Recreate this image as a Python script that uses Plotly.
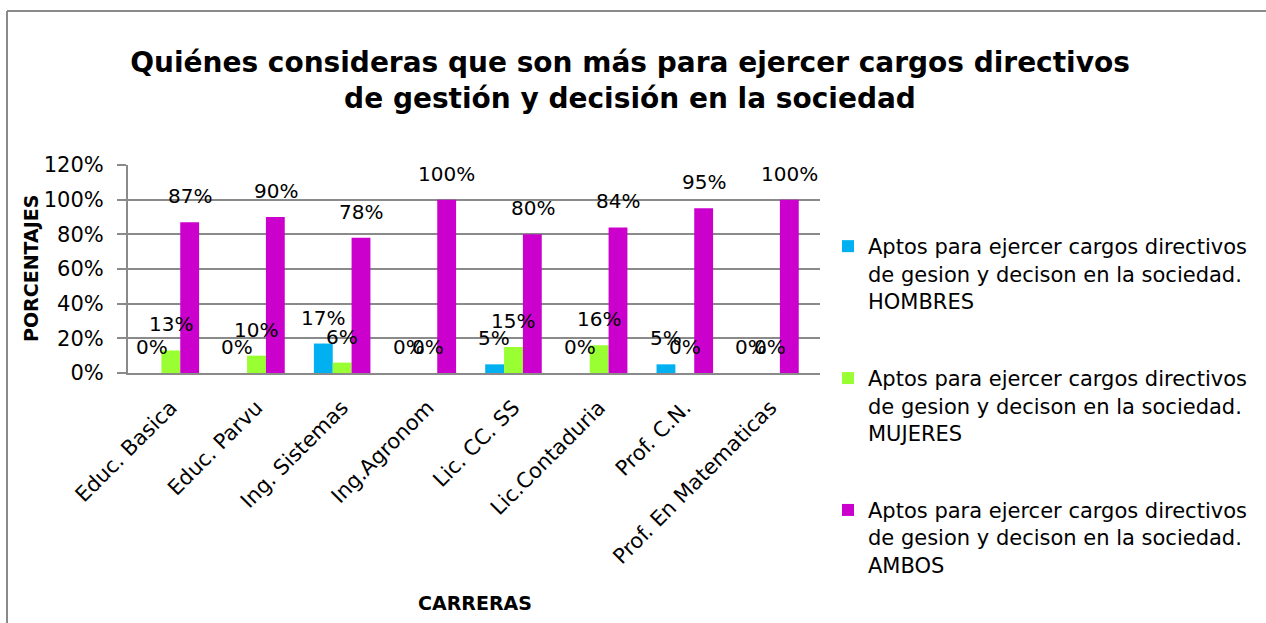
import plotly.graph_objects as go

carreras = ["Educ. Basica", "Educ. Parvu", "Ing. Sistemas", "Ing.Agronom",
            "Lic. CC. SS", "Lic.Contaduria", "Prof. C.N.", "Prof. En Matematicas"]
hombres = [0, 0, 17, 0, 5, 0, 5, 0]
mujeres = [13, 10, 6, 0, 15, 16, 0, 0]
ambos = [87, 90, 78, 100, 80, 84, 95, 100]

serie_nombres = [
    "Aptos para ejercer cargos directivos<br>de gesion y decison en la sociedad.<br>HOMBRES",
    "Aptos para ejercer cargos directivos<br>de gesion y decison en la sociedad.<br>MUJERES",
    "Aptos para ejercer cargos directivos<br>de gesion y decison en la sociedad.<br>AMBOS",
]
colores = ["#00B0F0", "#99FF33", "#CC00CC"]
series = [hombres, mujeres, ambos]

FONT = "DejaVu Sans"
W, H = 1266, 623
ML, MR, MT, MB = 128, 446, 165, 250
pw = W - ML - MR
ph = H - MT - MB


def px_x(sx):
    return (sx - ML) / pw


def px_y(sy):
    return (H - MB - sy) / ph


fig = go.Figure()
for i, (vals, name, col) in enumerate(zip(series, serie_nombres, colores)):
    fig.add_trace(go.Bar(
        x=carreras, y=[v / 100 for v in vals], name=name,
        marker=dict(color=col, line=dict(width=0)),
        legendgroup=f"g{i}",
    ))

# data labels
bargap = 0.34
bar_px = pw / len(carreras) * (1 - bargap) / 3
annotations = []
for i, vals in enumerate(series):
    for c, v in zip(carreras, vals):
        annotations.append(dict(
            x=c, y=v / 100, xref="x", yref="y", text=f"{v}%",
            showarrow=False, xshift=(i - 1) * bar_px, yshift=26,
            font=dict(family=FONT, size=20, color="black"),
        ))

annotations.append(dict(
    text="<b>CARRERAS</b>", x=px_x(475), y=px_y(603),
    xref="paper", yref="paper", showarrow=False,
    xanchor="center", yanchor="middle",
    font=dict(family=FONT, size=19, color="black"),
))
annotations.append(dict(
    text="<b>PORCENTAJES</b>", x=px_x(31), y=px_y(269),
    xref="paper", yref="paper", showarrow=False, textangle=-90,
    xanchor="center", yanchor="middle",
    font=dict(family=FONT, size=19, color="black"),
))

shapes = [
    dict(type="line", xref="paper", yref="paper",
         x0=px_x(7), x1=px_x(W),
         y0=px_y(11), y1=px_y(11),
         line=dict(color="#8a8a8a", width=2)),
    dict(type="line", xref="paper", yref="paper",
         x0=px_x(7), x1=px_x(7),
         y0=px_y(H), y1=px_y(11),
         line=dict(color="#8a8a8a", width=2)),
]

fig.update_layout(
    width=W, height=H,
    margin=dict(l=ML, r=MR, t=MT, b=MB, autoexpand=False),
    paper_bgcolor="white", plot_bgcolor="white",
    barmode="group", bargap=bargap, bargroupgap=0,
    title=dict(
        text="<b>Quiénes consideras que son más para ejercer cargos directivos<br>de gestión y decisión en la sociedad</b>",
        x=630 / W, xanchor="center", y=1 - 72 / H, yanchor="middle",
        font=dict(family=FONT, size=28, color="black"),
    ),
    showlegend=True,
    legend=dict(
        x=px_x(828), xanchor="left", y=px_y(226), yanchor="top",
        font=dict(family=FONT, size=21, color="black"),
        valign="top", tracegroupgap=47, traceorder="grouped",
        bgcolor="rgba(0,0,0,0)", maxheight=420,
    ),
    xaxis=dict(
        tickangle=-45, showgrid=False, showline=True, linecolor="#8a8a8a",
        linewidth=2, tickfont=dict(family=FONT, size=21, color="black"),
        ticks="", fixedrange=True, ticklabelstandoff=12,
    ),
    yaxis=dict(
        range=[0, 1.2], dtick=0.2, tickformat=".0%",
        showgrid=True, gridcolor="#8a8a8a", gridwidth=1.5,
        showline=True, linecolor="#8a8a8a", linewidth=2,
        ticks="outside", ticklen=9, tickcolor="#8a8a8a", tickwidth=1.5,
        tickfont=dict(family=FONT, size=21, color="black"),
        zeroline=False, ticklabelstandoff=9,
    ),
    annotations=annotations, shapes=shapes,
)

fig.write_html("out.html", config={"displayModeBar": False},
               post_script="document.body.style.margin='0';")
